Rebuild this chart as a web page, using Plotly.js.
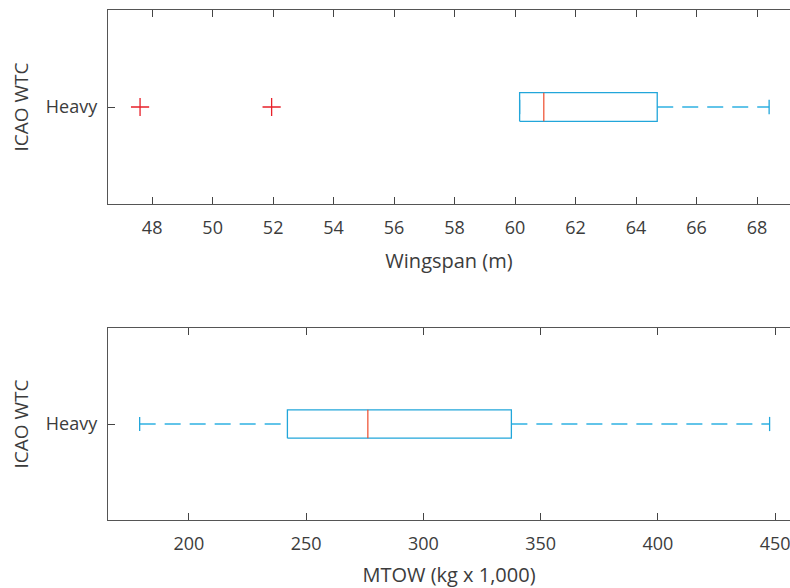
<!DOCTYPE html>
<html><head><meta charset="utf-8">
<script src="https://cdn.plot.ly/plotly-3.0.1.min.js"></script>
<style>html,body{margin:0;padding:0;background:#fff}#c{width:790px;height:588px}</style>
</head><body><div id="c"></div>
<script>
// Data
const category = "Heavy";
// Wingspan (m)
const wsStats = {lowerWhisker: 60.15, q1: 60.15, median: 60.95, q3: 64.7, upperWhisker: 68.4};
const wsOutliers = [47.6, 51.95];
const wsTicks = [48, 50, 52, 54, 56, 58, 60, 62, 64, 66, 68];
// MTOW (kg x 1,000)
const mtStats = {lowerWhisker: 179, q1: 242, median: 276.3, q3: 337.5, upperWhisker: 447.6};
const mtOutliers = [];
const mtTicks = [200, 250, 300, 350, 400, 450];

const boxColor = '#22A6DA', whiskerColor = '#62C4E9', medColor = '#EE4B2B', outColor = '#E8202A';
const yc = 1, bh = 0.074, ch = 0.037;

function tracesFor(s, outl, xa, ya) {
  const t = [];
  const dash = {color:whiskerColor, width:2, dash:'16px,9px'};
  t.push({x:[s.q3, s.upperWhisker], y:[yc,yc], xaxis:xa, yaxis:ya, mode:'lines', line:dash, hoverinfo:'skip'});
  t.push({x:[s.lowerWhisker, s.q1], y:[yc,yc], xaxis:xa, yaxis:ya, mode:'lines', line:dash, hoverinfo:'skip'});
  t.push({x:[s.upperWhisker, s.upperWhisker], y:[yc-ch, yc+ch], xaxis:xa, yaxis:ya, mode:'lines', line:{color:boxColor, width:1.3}, hoverinfo:'skip'});
  t.push({x:[s.lowerWhisker, s.lowerWhisker], y:[yc-ch, yc+ch], xaxis:xa, yaxis:ya, mode:'lines', line:{color:boxColor, width:1.3}, hoverinfo:'skip'});
  t.push({x:[s.q1, s.q3, s.q3, s.q1, s.q1], y:[yc-bh, yc-bh, yc+bh, yc+bh, yc-bh], xaxis:xa, yaxis:ya, mode:'lines', line:{color:boxColor, width:1.3}, hoverinfo:'skip'});
  t.push({x:[s.median, s.median], y:[yc-bh, yc+bh], xaxis:xa, yaxis:ya, mode:'lines', line:{color:medColor, width:1.2}, hoverinfo:'skip'});
  if (outl.length) t.push({x:outl, y:outl.map(()=>yc), xaxis:xa, yaxis:ya, mode:'markers', marker:{symbol:'cross-thin', size:13, line:{color:outColor, width:1.3}}, hoverinfo:'skip'});
  return t;
}

const data = [...tracesFor(wsStats, wsOutliers, 'x', 'y'), ...tracesFor(mtStats, mtOutliers, 'x2', 'y2')];

const fam = '"Open Sans", Lato, sans-serif';
const tc = '#3c3c3c';
const xBase = {showgrid:false, zeroline:false, showline:true, linecolor:'#555', linewidth:1.2, mirror:'ticks', ticks:'inside', ticklen:7, tickcolor:'#444', tickwidth:1, tickfont:{family:fam, size:18, color:tc}, automargin:false, ticklabelstandoff:7, ticklabeloverflow:'allow'};
const yBase = {showgrid:false, zeroline:false, showline:true, linecolor:'#555', linewidth:1.2, mirror:false, ticks:'inside', ticklen:7, tickcolor:'#444', range:[0.5,1.5], tickvals:[yc], ticktext:[category], tickfont:{family:fam, size:18, color:tc}, automargin:false, ticklabelstandoff:6, title:{text:'ICAO WTC', font:{family:fam, size:19, color:tc}, standoff:12}};

const layout = {
  width:790, height:588, margin:{l:108, r:0, t:0, b:0}, showlegend:false,
  paper_bgcolor:'#fff', plot_bgcolor:'#fff', font:{family:fam, color:tc},
  xaxis:Object.assign({}, xBase, {domain:[0,1], anchor:'y', range:[46.54, 69.09], tickvals:wsTicks, title:{text:'Wingspan (m)', font:{family:fam, size:20, color:tc}, standoff:16}}),
  yaxis:Object.assign({}, yBase, {domain:[1-204/588, 1-10/588], anchor:'x'}),
  xaxis2:Object.assign({}, xBase, {domain:[0,1], anchor:'y2', range:[165.5, 456.3], tickvals:mtTicks, title:{text:'MTOW (kg x 1,000)', font:{family:fam, size:20, color:tc}, standoff:15}}),
  yaxis2:Object.assign({}, yBase, {domain:[1-520/588, 1-328/588], anchor:'x2'})
};
Plotly.newPlot('c', data, layout, {staticPlot:true, displayModeBar:false});
</script></body></html>
